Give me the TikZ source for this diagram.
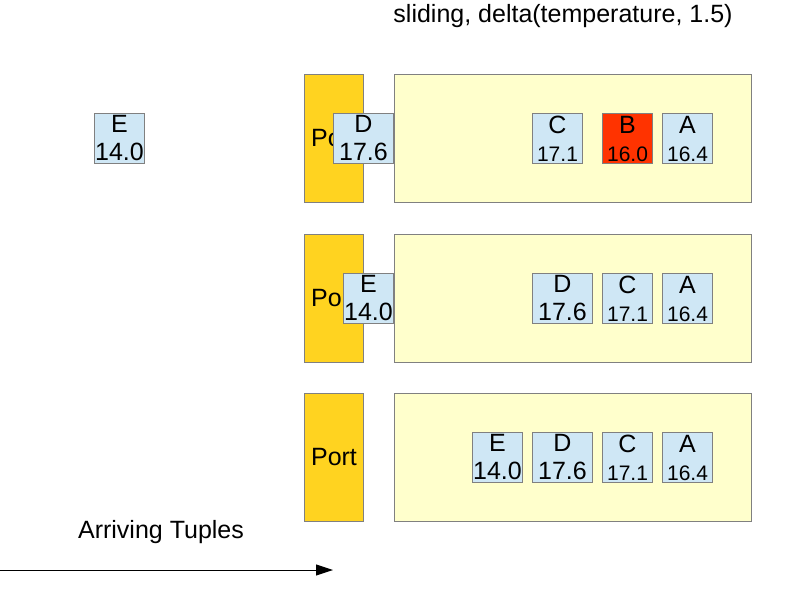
\documentclass[tikz,border=0pt]{standalone}
\usepackage{fontspec}
\setmainfont{Liberation Sans}
\usetikzlibrary{arrows.meta}
\definecolor{portc}{HTML}{FFD320}
\definecolor{winc}{HTML}{FFFFCC}
\definecolor{tupc}{HTML}{CFE7F5}
\definecolor{redc}{HTML}{FF3300}
\definecolor{edgec}{HTML}{808080}
\newcommand{\smnum}[1]{{\fontsize{21}{28}\selectfont #1}}
\tikzset{
  box/.style={draw=edgec, line width=1pt, inner sep=0pt, anchor=north west},
  portbox/.style={box, fill=portc, minimum width=59pt, minimum height=128pt, font=\fontsize{25}{28}\selectfont},
  winbox/.style={box, fill=winc, minimum width=357pt, minimum height=128pt},
  tup/.style={box, fill=tupc, minimum width=50pt, minimum height=50pt, align=center, font=\fontsize{25}{28}\selectfont},
  widetup/.style={tup, minimum width=60pt},
  redtup/.style={tup, fill=redc},
  label/.style={font=\fontsize{25}{28}\selectfont, inner sep=0pt}
}
\begin{document}
\begin{tikzpicture}[x=1pt,y=-1pt]
\useasboundingbox (0,0) rectangle (791,592);
% title
\node[label] (title) at (563,16) {sliding, delta(temperature, 1.5)};
% row 1
\node[portbox] (p1) at (304,74) {Port};
\node[winbox] (w1) at (394,74) {};
\node[tup] (e0) at (94,113) {E\\14.0};
\node[widetup] (d1) at (333,113) {D\\17.6};
\node[tup] (c1) at (532,113) {C\\\smnum{17.1}};
\node[redtup] (b1) at (602,113) {B\\\smnum{16.0}};
\node[tup] (a1) at (662,113) {A\\\smnum{16.4}};
% row 2
\node[portbox] (p2) at (304,234) {Port};
\node[winbox] (w2) at (394,234) {};
\node[tup] (e2) at (343,273) {E\\14.0};
\node[widetup] (d2) at (532,273) {D\\17.6};
\node[tup] (c2) at (602,273) {C\\\smnum{17.1}};
\node[tup] (a2) at (662,273) {A\\\smnum{16.4}};
% row 3
\node[portbox] (p3) at (304,393) {Port};
\node[winbox] (w3) at (394,393) {};
\node[tup] (e3) at (472,432) {E\\14.0};
\node[widetup] (d3) at (532,432) {D\\17.6};
\node[tup] (c3) at (602,432) {C\\\smnum{17.1}};
\node[tup] (a3) at (662,432) {A\\\smnum{16.4}};
% arriving
\node[label] (arr) at (161,532) {Arriving Tuples};
\coordinate (as) at (0,570);
\coordinate (ae) at (333,570);
\draw[line width=1pt, -{Triangle[length=17pt,width=11pt]}] (as) -- (ae);
\end{tikzpicture}
\end{document}
